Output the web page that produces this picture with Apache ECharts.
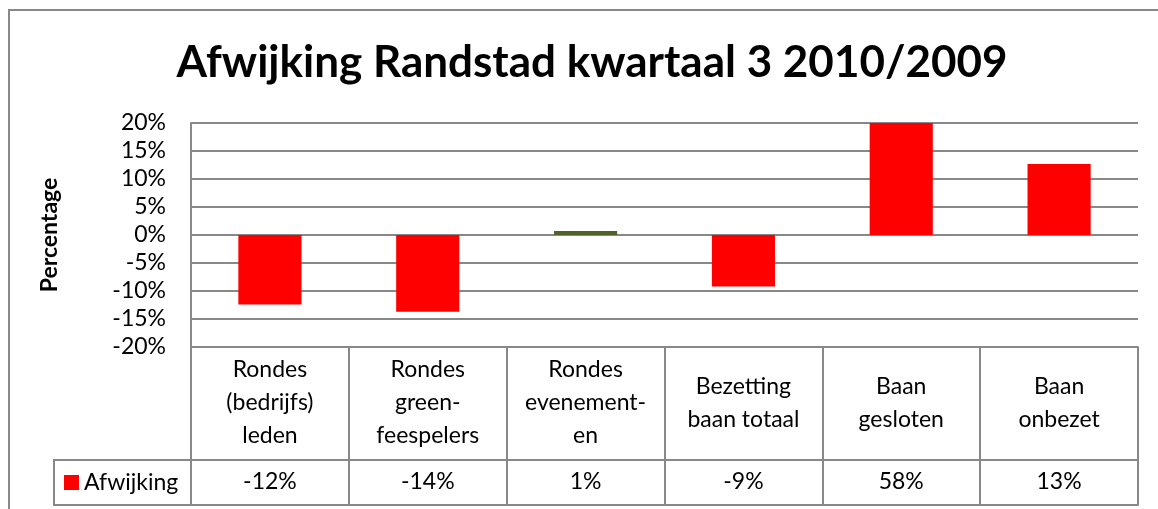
<!DOCTYPE html>
<html>
<head>
<meta charset="utf-8">
<script src="https://cdn.jsdelivr.net/npm/echarts@6/dist/echarts.min.js"></script>
<style>
html,body{margin:0;padding:0;background:#fff;}
#main{width:1158px;height:509px;}
</style>
</head>
<body>
<div id="main"></div>
<script>
// categorieen en afwijking (in %), gelezen uit de grafiek
var categories = ['Rondes\n(bedrijfs)\nleden', 'Rondes\ngreen-\nfeespelers', 'Rondes\nevenement-\nen', 'Bezetting\nbaan totaal', 'Baan\ngesloten', 'Baan\nonbezet'];
var afwijking = [-12.4, -13.7, 0.7, -9.2, 58, 12.7];
var yTicks = [-20, -15, -10, -5, 0, 5, 10, 15, 20];

var FONT = 'Lato';
var LINE = '#888888';

var myChart = echarts.init(document.getElementById('main'));

var barData = afwijking.map(function (v, i) {
    // de kleine balk is donkergroen in het origineel
    if (i === 2) return {value: v, itemStyle: {color: '#4f6228'}};
    return v;
});

var option = {
    animation: false,
    textStyle: {fontFamily: FONT},
    title: {
        text: 'Afwijking Randstad kwartaal 3 2010/2009',
        left: 587,
        top: 36,
        textAlign: 'center',
        textStyle: {fontFamily: FONT, fontSize: 44, fontWeight: 'bold', color: '#000'}
    },
    legend: {
        left: 64,
        top: 469,
        padding: 0,
        icon: 'rect',
        itemWidth: 15,
        itemHeight: 15,
        selectedMode: false,
        textStyle: {fontFamily: FONT, fontSize: 23, color: '#000', lineHeight: 27}
    },
    grid: {left: 191, right: 20, top: 123, bottom: 162},
    xAxis: [
        {
            type: 'category',
            data: categories,
            position: 'bottom',
            axisLine: {onZero: false, lineStyle: {color: LINE, width: 2}},
            axisTick: {show: true, length: 113, alignWithLabel: false, lineStyle: {color: LINE, width: 2}},
            axisLabel: {interval: 0, margin: 56, verticalAlign: 'middle', fontSize: 23, lineHeight: 33, color: '#000', fontFamily: FONT}
        },
        {
            type: 'category',
            data: categories,
            position: 'bottom',
            offset: 113,
            axisLine: {onZero: false, lineStyle: {color: LINE, width: 2}},
            axisTick: {show: true, length: 45, alignWithLabel: false, lineStyle: {color: LINE, width: 2}},
            axisLabel: {
                interval: 0, margin: 22, verticalAlign: 'middle', fontSize: 23, color: '#000', fontFamily: FONT,
                formatter: function (v, i) { return Math.round(afwijking[i]) + '%'; }
            }
        },
        {
            type: 'category',
            data: categories,
            position: 'bottom',
            offset: 158,
            axisLine: {onZero: false, lineStyle: {color: LINE, width: 2}},
            axisTick: {show: false},
            axisLabel: {show: false}
        }
    ],
    yAxis: {
        type: 'value',
        min: yTicks[0],
        max: yTicks[yTicks.length - 1],
        interval: 5,
        name: 'Percentage',
        nameLocation: 'middle',
        nameRotate: 90,
        nameGap: 130,
        nameTextStyle: {fontFamily: FONT, fontSize: 23, fontWeight: 'bold', color: '#000'},
        axisLine: {show: true, lineStyle: {color: LINE, width: 2}},
        axisTick: {show: false},
        axisLabel: {margin: 25, fontSize: 23, color: '#000', fontFamily: FONT, formatter: '{value}%'},
        splitLine: {show: true, lineStyle: {color: LINE, width: 2}}
    },
    series: [{
        name: 'Afwijking',
        type: 'bar',
        xAxisIndex: 0,
        barWidth: '40%',
        clip: true,
        itemStyle: {color: '#ff0000'},
        data: barData
    }],
    graphic: [
        {type: 'rect', shape: {x: 9, y: 10, width: 1300, height: 600}, style: {fill: 'none', stroke: LINE, lineWidth: 2}, silent: true},
        {type: 'rect', shape: {x: 54, y: 460, width: 137, height: 45}, style: {fill: 'none', stroke: LINE, lineWidth: 2}, silent: true}
    ]
};
myChart.setOption(option);
</script>
</body>
</html>
